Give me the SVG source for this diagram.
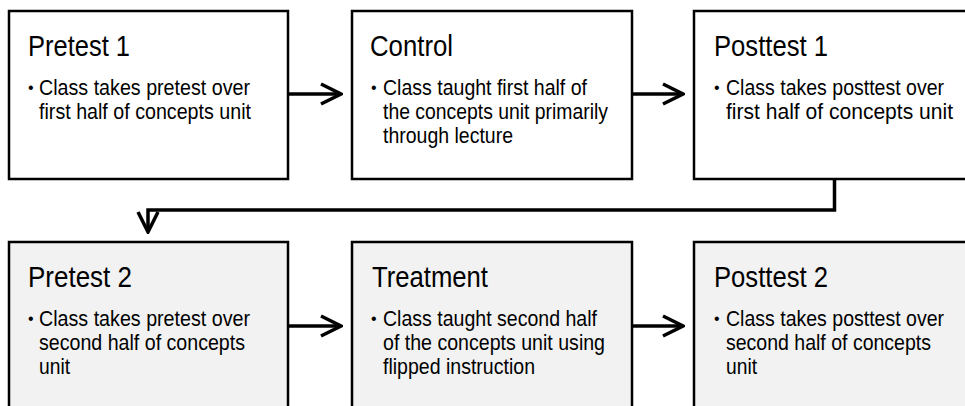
<svg xmlns="http://www.w3.org/2000/svg" width="965" height="406" viewBox="0 0 965 406">
<style>
.box{stroke:#000;stroke-width:2.5}
.r1{fill:#fff}
.r2{fill:#f2f2f2}
.title{font-family:"Liberation Sans",Arial,sans-serif;font-size:30px;fill:#000}
.body{font-family:"Liberation Sans",Arial,sans-serif;font-size:21.5px;fill:#000}
.bul{font-family:"Liberation Sans",Arial,sans-serif;font-size:16px;fill:#000}
.conn{fill:none;stroke:#000;stroke-width:3.5}
</style>
<defs>
<marker id="chev" viewBox="-24 -12 26 24" refX="0" refY="0" markerWidth="26" markerHeight="24" markerUnits="userSpaceOnUse" orient="auto">
<path d="M-20,-10 L0,0 L-20,10" fill="none" stroke="#000" stroke-width="3.5" stroke-linejoin="miter"/>
</marker>
</defs>
<rect width="965" height="406" fill="#fff"/>
<g id="connectors">
<path class="conn" d="M288,94 H341" marker-end="url(#chev)"/>
<path class="conn" d="M632,94 H683" marker-end="url(#chev)"/>
<path class="conn" d="M834.5,179 V210 H148 V232" marker-end="url(#chev)"/>
<path class="conn" d="M288,326 H341" marker-end="url(#chev)"/>
<path class="conn" d="M632,326 H683" marker-end="url(#chev)"/>
</g>
<g id="pretest1">
<rect class="box r1" x="9" y="11" width="279" height="168"/>
<text class="title" x="28" y="56" textLength="102" lengthAdjust="spacingAndGlyphs">Pretest 1</text>
<text class="bul" x="28" y="93">•</text>
<text class="body" x="39" y="95" textLength="211" lengthAdjust="spacingAndGlyphs">Class takes pretest over</text>
<text class="body" x="39" y="119" textLength="212" lengthAdjust="spacingAndGlyphs">first half of concepts unit</text>
</g>
<g id="control">
<rect class="box r1" x="352" y="11" width="280" height="168"/>
<text class="title" x="370" y="56" textLength="83" lengthAdjust="spacingAndGlyphs">Control</text>
<text class="bul" x="371" y="93">•</text>
<text class="body" x="383" y="95" textLength="204" lengthAdjust="spacingAndGlyphs">Class taught first half of</text>
<text class="body" x="383" y="119" textLength="225" lengthAdjust="spacingAndGlyphs">the concepts unit primarily</text>
<text class="body" x="383" y="143" textLength="130" lengthAdjust="spacingAndGlyphs">through lecture</text>
</g>
<g id="posttest1">
<rect class="box r1" x="694" y="11" width="300" height="168"/>
<text class="title" x="714" y="56" textLength="114" lengthAdjust="spacingAndGlyphs">Posttest 1</text>
<text class="bul" x="714" y="93">•</text>
<text class="body" x="726" y="95" textLength="218" lengthAdjust="spacingAndGlyphs">Class takes posttest over</text>
<text class="body" x="726" y="119" textLength="227" lengthAdjust="spacingAndGlyphs">first half of concepts unit</text>
</g>
<g id="pretest2">
<rect class="box r2" x="9" y="242" width="279" height="180"/>
<text class="title" x="28" y="287" textLength="104" lengthAdjust="spacingAndGlyphs">Pretest 2</text>
<text class="bul" x="28" y="324">•</text>
<text class="body" x="39" y="326" textLength="211" lengthAdjust="spacingAndGlyphs">Class takes pretest over</text>
<text class="body" x="39" y="350" textLength="206" lengthAdjust="spacingAndGlyphs">second half of concepts</text>
<text class="body" x="39" y="374" textLength="31" lengthAdjust="spacingAndGlyphs">unit</text>
</g>
<g id="treatment">
<rect class="box r2" x="352" y="242" width="280" height="180"/>
<text class="title" x="372" y="287" textLength="116" lengthAdjust="spacingAndGlyphs">Treatment</text>
<text class="bul" x="371" y="324">•</text>
<text class="body" x="383" y="326" textLength="214" lengthAdjust="spacingAndGlyphs">Class taught second half</text>
<text class="body" x="383" y="350" textLength="222" lengthAdjust="spacingAndGlyphs">of the concepts unit using</text>
<text class="body" x="383" y="374" textLength="152" lengthAdjust="spacingAndGlyphs">flipped instruction</text>
</g>
<g id="posttest2">
<rect class="box r2" x="694" y="242" width="300" height="180"/>
<text class="title" x="714" y="287" textLength="114" lengthAdjust="spacingAndGlyphs">Posttest 2</text>
<text class="bul" x="714" y="324">•</text>
<text class="body" x="726" y="326" textLength="218" lengthAdjust="spacingAndGlyphs">Class takes posttest over</text>
<text class="body" x="726" y="350" textLength="205" lengthAdjust="spacingAndGlyphs">second half of concepts</text>
<text class="body" x="726" y="374" textLength="31" lengthAdjust="spacingAndGlyphs">unit</text>
</g>
</svg>
